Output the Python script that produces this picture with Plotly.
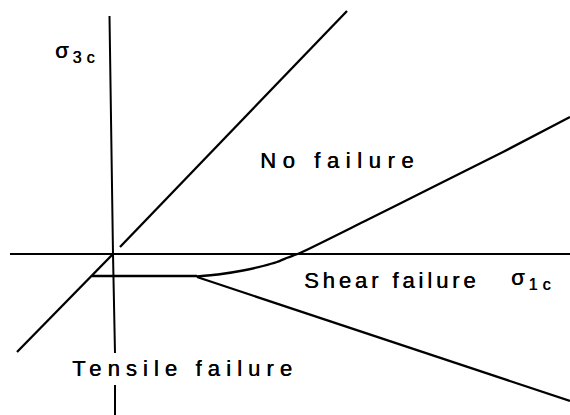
import plotly.graph_objects as go

# Failure envelope in the (sigma_1c, sigma_3c) plane, arbitrary stress units

# coordinate axes (the vertical one is interrupted by the "Tensile failure" label)
h_axis_x = [-1.03, 4.57]
h_axis_y = [0.0, 0.0]
v_axis_upper_x = [-0.035, 0.0, 0.02]
v_axis_upper_y = [2.38, 0.0, -0.99]
v_axis_lower_x = [0.02, 0.02]
v_axis_lower_y = [-1.31, -1.61]

# sigma_1 = sigma_3 diagonal
diag_low_x = [-0.96, 0.0]
diag_low_y = [-0.98, 0.0]
diag_up_x = [0.07, 2.34]
diag_up_y = [0.07, 2.43]

# tensile cut-off
tension_x = [-0.21, 0.84]
tension_y = [-0.22, -0.22]

# upper shear envelope (curved near the cut-off, then straight)
shear_up_x = [0.84, 1.05, 1.30, 1.50, 1.64, 1.75, 1.87, 2.50, 3.20, 3.90, 4.57]
shear_up_y = [-0.225, -0.205, -0.165, -0.12, -0.08, -0.035, 0.01, 0.32, 0.67, 1.02, 1.37]

# lower shear envelope
shear_low_x = [0.84, 4.57]
shear_low_y = [-0.23, -1.47]

# region labels: text, x, y, letter spacing (px), anchor
labels = [
    ("No failure", 2.265, 0.94, 6.6, "center"),
    ("Tensile failure", 0.72, -1.14, 6.1, "center"),
    ("Shear failure", 1.89, -0.26, 3.9, "left"),
]

# stress axis names: subscript, x, y
axis_names = [
    ("1c", 3.96, -0.25),
    ("3c", -0.60, 2.02),
]

FONT = "Liberation Sans, Arial, sans-serif"
SIZE = 22
INK = "0.45px 0px 0px black"

fig = go.Figure()

segments = [
    (h_axis_x, h_axis_y, 2),
    (v_axis_upper_x, v_axis_upper_y, 2),
    (v_axis_lower_x, v_axis_lower_y, 2),
    (diag_low_x, diag_low_y, 2.3),
    (diag_up_x, diag_up_y, 2.3),
    (tension_x, tension_y, 2.3),
    (shear_up_x, shear_up_y, 2.3),
    (shear_low_x, shear_low_y, 2.3),
]
for xs, ys, w in segments:
    fig.add_trace(go.Scatter(
        x=xs, y=ys, mode="lines",
        line=dict(color="black", width=w, shape="spline", smoothing=0.6),
        hoverinfo="skip", showlegend=False,
    ))

for text, x, y, sp, anchor in labels:
    fig.add_annotation(
        x=x, y=y, xref="x", yref="y", showarrow=False,
        text=f"<span style='font-size:{SIZE}px;letter-spacing:{sp}px'>{text}</span>",
        font=dict(family=FONT, size=SIZE, color="black", shadow=INK),
        xanchor=anchor, yanchor="middle",
    )

for sub, x, y in axis_names:
    fig.add_annotation(
        x=x, y=y, xref="x", yref="y", showarrow=False,
        text=(f"<span style='font-size:{SIZE}px;letter-spacing:4px'>σ</span>"
              f"<sub><span style='font-size:16px;letter-spacing:5px'>{sub}</span></sub>"),
        font=dict(family=FONT, size=SIZE, color="black", shadow=INK),
        xanchor="left", yanchor="middle",
    )

fig.update_xaxes(range=[-1.13, 4.57], visible=False, fixedrange=True)
fig.update_yaxes(range=[-1.61, 2.54], visible=False, fixedrange=True)
fig.update_layout(
    width=570, height=415,
    margin=dict(l=0, r=0, t=0, b=0),
    paper_bgcolor="white", plot_bgcolor="white",
)

fig.write_html("out.html")
